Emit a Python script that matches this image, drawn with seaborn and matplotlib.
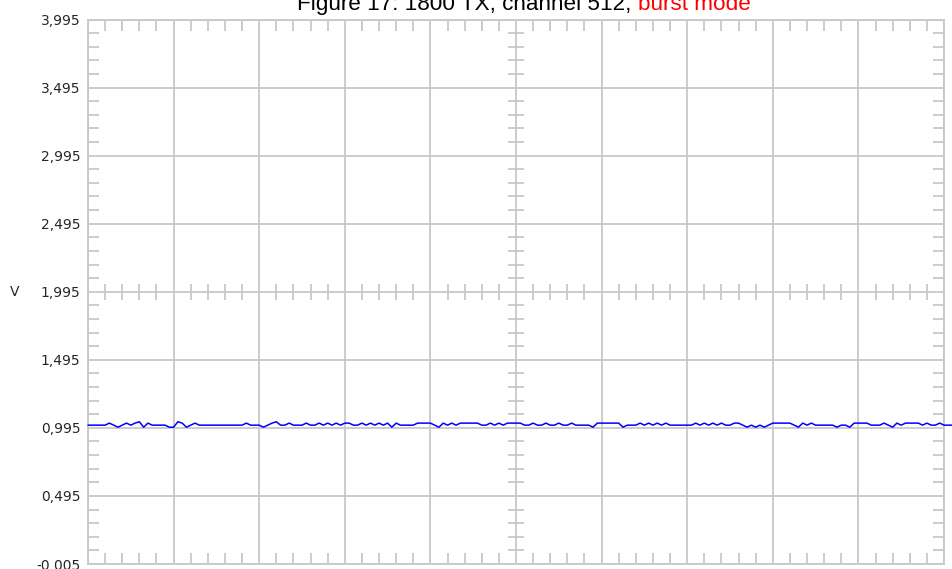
import numpy as np
import pandas as pd
import seaborn as sns
import matplotlib.pyplot as plt
from matplotlib.ticker import MultipleLocator, FixedLocator

# voltage samples, 20 per horizontal division (levels)
B, U, D, H = 1.015, 1.030, 1.000, 1.040
volts = [
    B, B, B, B, B, U, B, D, B, U, B, U, H, D, U, B, B, B, B, D,
    D, H, U, D, B, U, B, B, B, B, B, B, B, B, B, B, B, U, B, B,
    B, D, B, U, H, B, B, U, B, B, B, U, B, B, U, B, U, B, U, B,
    U, U, B, B, U, B, U, B, U, B, U, D, U, B, B, B, B, U, U, U,
    U, B, D, U, B, U, B, U, U, U, U, U, B, B, U, B, U, B, U, U,
    U, U, B, B, U, B, B, U, B, B, U, B, B, U, B, B, B, B, D, U,
    U, U, U, U, U, D, B, B, B, U, B, U, B, U, B, U, B, B, B, B,
    B, B, U, B, U, B, U, B, U, B, B, U, U, B, D, B, D, B, D, B,
    U, U, U, U, U, B, D, U, B, U, B, B, B, B, B, D, B, B, D, U,
    U, U, U, B, B, B, U, B, D, U, B, U, U, U, U, B, U, B, B, U,
    B, B, B,
]
samples_per_div = 20
n_divs = 10
y_ticks = [-0.005, 0.495, 0.995, 1.495, 1.995, 2.495, 2.995, 3.495, 3.995]
title_main = "Figure 17: 1800 TX, channel 512, "
title_mode = "burst mode"

grid_color = "#c8c8c8"

df = pd.DataFrame({"div": np.arange(len(volts)) / samples_per_div, "V": volts})

sns.set_style("white")
plt.rcParams["font.family"] = ["Liberation Sans", "DejaVu Sans"]

fig = plt.figure(figsize=(9.52, 5.69), dpi=100)
ax = fig.add_axes([88 / 952, 5 / 569, 856 / 952, 544.5 / 569])

sns.lineplot(data=df, x="div", y="V", ax=ax, color="#0000ff", lw=1.1,
             clip_on=False, zorder=5)

ax.set_xlim(0, n_divs)
ax.set_ylim(y_ticks[0], y_ticks[-1])
ax.xaxis.set_major_locator(MultipleLocator(1))
ax.xaxis.set_minor_locator(MultipleLocator(0.2))
ax.yaxis.set_major_locator(FixedLocator(y_ticks))
ax.yaxis.set_minor_locator(FixedLocator(np.arange(y_ticks[0], y_ticks[-1], 0.1)))
ax.set_xticklabels([])
ax.set_yticklabels([f"{v:.3f}".replace(".", ",") for v in y_ticks],
                   family="DejaVu Sans")
ax.set_xlabel("")
ax.set_ylabel("")

ax.grid(True, which="major", color=grid_color, lw=1.3)
ax.tick_params(which="major", length=0, labelsize=10, pad=5.5)
ax.tick_params(which="minor", direction="in", length=8, width=1.3,
               color=grid_color, top=True, right=True, left=True, bottom=True)
for s in ax.spines.values():
    s.set_color(grid_color)
    s.set_linewidth(1.3)

# cross ticks on the centre lines
xc = n_divs / 2
yc = y_ticks[4]
mx = [t for t in ax.xaxis.get_minorticklocs() if 0 < t < n_divs]
my = [t for t in ax.yaxis.get_minorticklocs() if y_ticks[0] < t < y_ticks[-1]]
ax.plot(mx, [yc] * len(mx), ls="none", marker="|", ms=12, mew=1.3,
        color=grid_color, zorder=1)
ax.plot([xc] * len(my), my, ls="none", marker="_", ms=12, mew=1.3,
        color=grid_color, zorder=1)

fig.text(10 / 952, 1 - 292 / 569, "V", fontsize=10, family="DejaVu Sans",
         va="center", ha="left")

# title, partly cut off at the top
t1 = fig.text(297 / 952, 1 - 10 / 569, title_main, fontsize=16.2,
              va="baseline", ha="left", color="black")
fig.canvas.draw()
bb = t1.get_window_extent()
fig.text(bb.x1 / 952, 1 - 10 / 569, title_mode, fontsize=16.2,
         va="baseline", ha="left", color="red")

fig.savefig("out.png", dpi=100)
